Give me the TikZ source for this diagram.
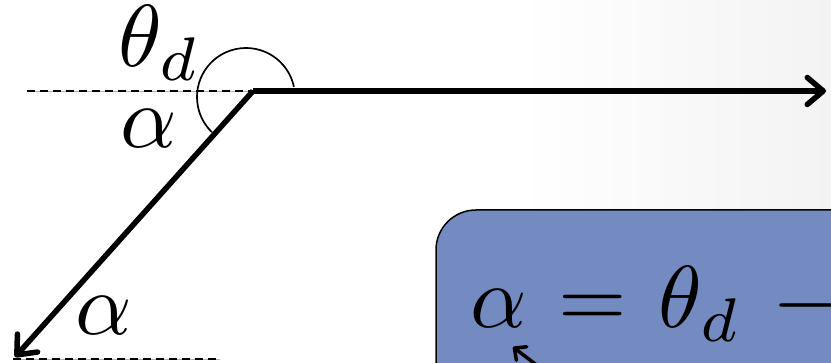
\documentclass[tikz,border=0pt]{standalone}
\usepackage{amsmath,amssymb}
\usetikzlibrary{arrows.meta}
\definecolor{boxblue}{HTML}{738BC1}
\definecolor{guideblue}{HTML}{9DB0DC}
\definecolor{bgshade}{HTML}{F3F3F3}
\newcommand{\hugemath}[1]{\scalebox{8.8}{$\thickmuskip=6.5mu\medmuskip=6.5mu#1$}}

\begin{document}
\begin{tikzpicture}[x=1pt,y=1pt,
    vec/.style={line width=5.5pt,-{Straight Barb[round,length=16pt,width=27pt,line width=5.5pt]}},
    guide/.style={line width=1.3pt,dash pattern=on 8pt off 5pt,
      preaction={draw=guideblue,solid,line width=0.8pt}},
    lbl/.style={inner sep=0pt,anchor=base west}]
  \useasboundingbox (0,0) rectangle (831,363);
  \clip (0,0) rectangle (831,363);
  \shade[left color=white,right color=bgshade] (520,0) rectangle (831,363);
  \coordinate (vtx) at (253,272);
  \coordinate (east) at (826,272);
  \coordinate (sw) at (15,6);
  \coordinate (lguide) at (27,272);
  \coordinate (bguide) at (220,4);
  \coordinate (ptr) at (513,16);
  \coordinate (ptrtail) at (560,-20);
  \draw[guide] (lguide) -- (vtx);
  \draw[guide] (13,4) -- (bguide);
  \draw[line width=1.7pt] (246,266) ++(12:49) arc[start angle=12,end angle=226,radius=49];
  \draw[vec] (vtx) -- (east);
  \draw[vec] (vtx) -- (sw);
  \node[lbl] (thetad) at (118,296) {\hugemath{\theta_d}};
  \node[lbl] (alphatop) at (120,215) {\hugemath{\alpha}};
  \node[lbl] (alphabot) at (75,28) {\hugemath{\alpha}};
  \draw[line width=1.5pt,fill=boxblue,rounded corners=40pt] (436,153) rectangle (1000,-80);
  \node[lbl] (eq) at (470,35) {\hugemath{\alpha=\theta_d-{}}};
  \draw[line width=3.5pt,-{Straight Barb[round,length=9pt,width=17pt,line width=3.5pt]}] (ptrtail) -- (ptr);
\end{tikzpicture}
\end{document}
